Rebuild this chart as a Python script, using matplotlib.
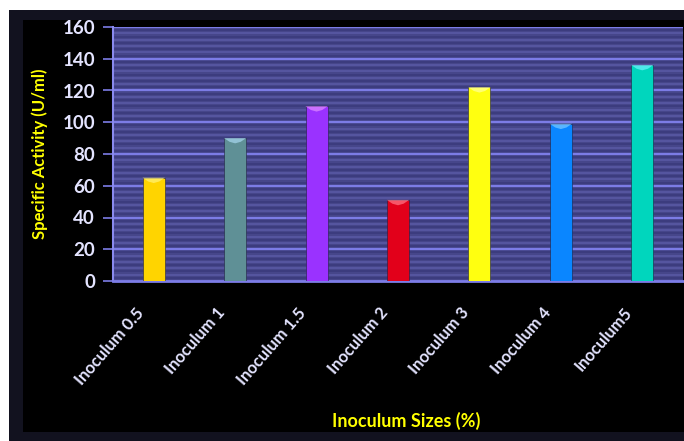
import matplotlib
matplotlib.use("Agg")
import matplotlib.pyplot as plt
from matplotlib.patches import Rectangle
from matplotlib.path import Path
from matplotlib.transforms import ScaledTranslation
import numpy as np

plt.rcParams['font.family'] = ['Lato', 'DejaVu Sans']

# inoculum size vs specific activity
labels = ['Inoculum 0.5', 'Inoculum 1', 'Inoculum 1.5', 'Inoculum 2',
          'Inoculum 3', 'Inoculum 4', 'Inoculum5']
activity = [65, 90, 110, 51, 122, 99, 136]
colors = ['#ffd400', '#5f9096', '#9a32ff', '#e2001a', '#ffff10', '#0a86ff', '#00d6bd']
caps = ['#fff27a', '#a8d8f0', '#e08cff', '#ff7a8a', '#ffffa0', '#7ccaff', '#70f2ff']

W, H = 684, 441
fig = plt.figure(figsize=(W / 100, H / 100), dpi=100, facecolor='white')

# dark frame with black inner panel, kept behind the axes
fig.patches.append(Rectangle((9 / W, 0), (688 - 9) / W, (441 - 10) / H,
                             transform=fig.transFigure, facecolor='#12121f',
                             edgecolor='none', zorder=-2))
fig.patches.append(Rectangle((23 / W, (441 - 432) / H), (688 - 23) / W, (432 - 20) / H,
                             transform=fig.transFigure, facecolor='black',
                             edgecolor='none', zorder=-1))

ax = fig.add_axes([113 / W, 1 - 281 / H, (683 - 113) / W, (281 - 27) / H])
ax.set_facecolor('#46468a')

x = np.arange(len(labels))
ax.set_xlim(-0.5, len(labels) - 0.5)
ax.set_ylim(0, 160)

# striped background: thin bands between the major gridlines
for yy in np.arange(0, 160, 2):
    ax.axhline(yy, color='#5656a0' if yy % 4 == 0 else '#3c3c7e', lw=1.4, zorder=0)
for yy in np.arange(20, 161, 20):
    ax.axhline(yy, color='#7c7ce6', lw=1.6, zorder=1)

ax.bar(x, activity, width=0.27, color=colors, edgecolor='#202040', linewidth=0.4, zorder=3)

# flat light chevron at the top of each bar
chevron = Path([(-0.5, 0.12), (0.5, 0.12), (0.25, -0.05), (0, -0.12), (-0.25, -0.05),
                (-0.5, 0.12)])
ax.scatter(x, np.array(activity) - 1.6, marker=chevron, s=260, c=caps, alpha=0.7,
           linewidths=0, zorder=4)

ax.set_yticks(np.arange(0, 161, 20))
ax.set_xticks(x)
ax.set_xticklabels([])
ax.tick_params(axis='x', length=0)

# category labels, slanted and ending just left of each bar
lab_tr = ax.get_xaxis_transform() + ScaledTranslation(-13 / 100, -29 / 100, fig.dpi_scale_trans)
for xi, name in zip(x, labels):
    ax.text(xi, 0, name, transform=lab_tr, rotation=49, ha='right', va='center',
            rotation_mode='anchor', color='#e4e4ff', fontsize=12, fontweight='bold',
            clip_on=False)

ax.tick_params(axis='y', colors='#7c7ce6', labelcolor='#e4e4ff', length=7,
               width=1.2, labelsize=13.5, pad=6)
for t in ax.get_yticklabels():
    t.set_fontweight('bold')

for side in ['top', 'right']:
    ax.spines[side].set_visible(False)
ax.spines['left'].set_color('#8a8aee')
ax.spines['left'].set_linewidth(1.5)
ax.spines['bottom'].set_color('#7c7ce6')
ax.spines['bottom'].set_linewidth(2)

ax.set_ylabel('Specific Activity (U/ml)', color='#ffff00', fontsize=12,
              fontweight='bold', labelpad=10)
fig.text(406 / W, 1 - 421 / H, 'Inoculum Sizes (%)', color='#ffff00', fontsize=13,
         fontweight='bold', ha='center', va='center')

fig.savefig('out.png', dpi=100, facecolor=fig.get_facecolor())
